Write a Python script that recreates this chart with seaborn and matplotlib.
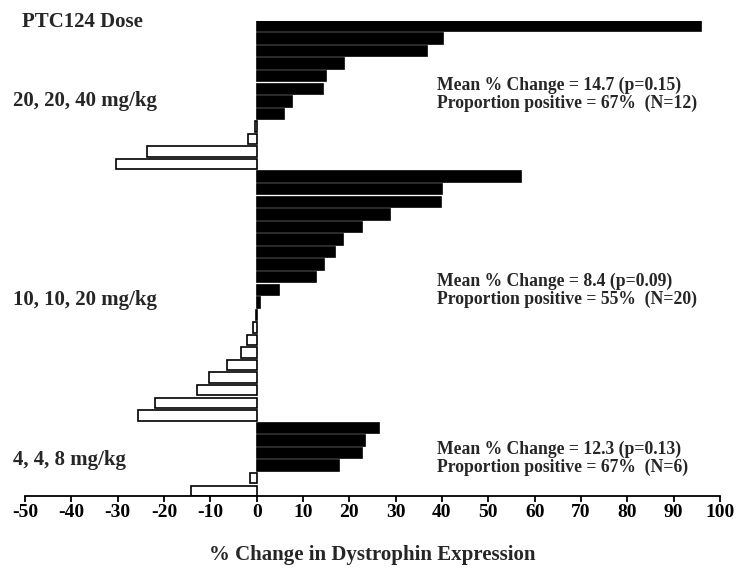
import numpy as np
import pandas as pd
import matplotlib
matplotlib.use("Agg")
import matplotlib.pyplot as plt
import seaborn as sns

# % change in dystrophin expression per patient, sorted within each dose cohort
dose_labels = ["20, 20, 40 mg/kg", "10, 10, 20 mg/kg", "4, 4, 8 mg/kg"]
high_dose = [96.0, 40.3, 36.7, 18.9, 14.9, 14.4, 7.6, 5.8, -0.3, -1.8, -23.6, -30.3]
mid_dose = [57.0, 40.1, 39.7, 28.7, 22.8, 18.6, 16.8, 14.5, 12.7, 4.9, 0.8,
            -0.2, -0.7, -2.0, -3.3, -6.5, -10.2, -12.8, -22.0, -25.7]
low_dose = [26.5, 23.3, 22.8, 17.8, -1.4, -14.2]
mean_change = ["14.7 (p=0.15)", "8.4 (p=0.09)", "12.3 (p=0.13)"]
prop_positive = ["67%  (N=12)", "55%  (N=20)", "67%  (N=6)"]
x_ticks = list(range(-50, 101, 10))

groups = [high_dose, mid_dose, low_dose]
values = np.concatenate(groups)
df = pd.DataFrame({
    "row": np.arange(len(values)),
    "change": values,
    "sign": np.where(values > 0, "pos", "neg"),
})

sns.set_theme(style="white")
plt.rcParams["font.family"] = ["Liberation Serif", "DejaVu Serif"]
plt.rcParams["font.weight"] = "bold"

fig = plt.figure(figsize=(7.37, 5.70), dpi=100)
ax = fig.add_axes([25 / 737, 1 - 496 / 570, 695 / 737, 475.3 / 570])

sns.barplot(data=df, x="change", y="row", hue="sign", orient="h",
            palette={"pos": "black", "neg": "white"}, hue_order=["pos", "neg"],
            edgecolor="black", linewidth=1.2, width=0.83, dodge=False,
            legend=False, ax=ax)

n = len(values)
ax.set_xlim(-50, 100)
ax.set_ylim(n - 1 + 0.415, -0.415)
ax.set_yticks([])
ax.set_ylabel("")
ax.set_xticks(x_ticks)
ax.set_xticklabels([str(t) for t in x_ticks], fontsize=14, fontweight="bold")
ax.tick_params(axis="x", direction="out", length=4.5, width=1.3, pad=1.5,
               bottom=True, colors="black")
ax.set_xlabel("% Change in Dystrophin Expression", fontsize=15,
              fontweight="bold", labelpad=17)
for side in ["top", "right", "left"]:
    ax.spines[side].set_visible(False)
ax.spines["bottom"].set_linewidth(1.3)
ax.spines["bottom"].set_color("black")

# cohort labels on the left and summary statistics on the right
fig.text(22 / 737, 1 - 22 / 570, "PTC124 Dose", fontsize=15, fontweight="bold",
         va="center", ha="left")
label_y = [101, 300, 460]
for lab, yp in zip(dose_labels, label_y):
    fig.text(13 / 737, 1 - yp / 570, lab, fontsize=15, fontweight="bold",
             va="center", ha="left")

stat_rows = [(4.7, 6.15), (20.3, 21.8), (33.7, 35.1)]
for (y1, y2), m, p in zip(stat_rows, mean_change, prop_positive):
    ax.text(39, y1, f"Mean % Change = {m}", fontsize=12.7, fontweight="bold",
            va="center", ha="left")
    ax.text(39, y2, f"Proportion positive = {p}", fontsize=12.7, fontweight="bold",
            va="center", ha="left")

fig.savefig("out.png", dpi=100)
